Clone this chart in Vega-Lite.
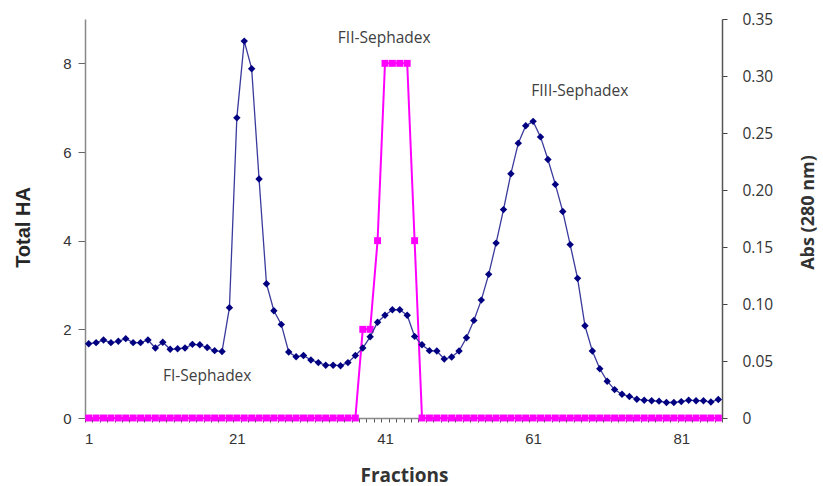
{
  "$schema": "https://vega.github.io/schema/vega-lite/v6.json",
  "width": 637,
  "height": 399,
  "autosize": "none",
  "padding": {"left": 85, "top": 19, "right": 101, "bottom": 68},
  "background": "white",
  "config": {"view": {"stroke": null}, "axis": {"labelOverlap": false}},
  "datasets": {
    "ha": [
      {"f":1,"ha":0},{"f":2,"ha":0},{"f":3,"ha":0},{"f":4,"ha":0},{"f":5,"ha":0},{"f":6,"ha":0},{"f":7,"ha":0},{"f":8,"ha":0},{"f":9,"ha":0},{"f":10,"ha":0},
      {"f":11,"ha":0},{"f":12,"ha":0},{"f":13,"ha":0},{"f":14,"ha":0},{"f":15,"ha":0},{"f":16,"ha":0},{"f":17,"ha":0},{"f":18,"ha":0},{"f":19,"ha":0},{"f":20,"ha":0},
      {"f":21,"ha":0},{"f":22,"ha":0},{"f":23,"ha":0},{"f":24,"ha":0},{"f":25,"ha":0},{"f":26,"ha":0},{"f":27,"ha":0},{"f":28,"ha":0},{"f":29,"ha":0},{"f":30,"ha":0},
      {"f":31,"ha":0},{"f":32,"ha":0},{"f":33,"ha":0},{"f":34,"ha":0},{"f":35,"ha":0},{"f":36,"ha":0},{"f":37,"ha":0},{"f":38,"ha":2},{"f":39,"ha":2},{"f":40,"ha":4},
      {"f":41,"ha":8},{"f":42,"ha":8},{"f":43,"ha":8},{"f":44,"ha":8},{"f":45,"ha":4},{"f":46,"ha":0},{"f":47,"ha":0},{"f":48,"ha":0},{"f":49,"ha":0},{"f":50,"ha":0},
      {"f":51,"ha":0},{"f":52,"ha":0},{"f":53,"ha":0},{"f":54,"ha":0},{"f":55,"ha":0},{"f":56,"ha":0},{"f":57,"ha":0},{"f":58,"ha":0},{"f":59,"ha":0},{"f":60,"ha":0},
      {"f":61,"ha":0},{"f":62,"ha":0},{"f":63,"ha":0},{"f":64,"ha":0},{"f":65,"ha":0},{"f":66,"ha":0},{"f":67,"ha":0},{"f":68,"ha":0},{"f":69,"ha":0},{"f":70,"ha":0},
      {"f":71,"ha":0},{"f":72,"ha":0},{"f":73,"ha":0},{"f":74,"ha":0},{"f":75,"ha":0},{"f":76,"ha":0},{"f":77,"ha":0},{"f":78,"ha":0},{"f":79,"ha":0},{"f":80,"ha":0},
      {"f":81,"ha":0},{"f":82,"ha":0},{"f":83,"ha":0},{"f":84,"ha":0},{"f":85,"ha":0},{"f":86,"ha":0}
    ],
    "abs": [
      {"f":1,"abs":0.0651},{"f":2,"abs":0.0661},{"f":3,"abs":0.0684},{"f":4,"abs":0.0661},{"f":5,"abs":0.0673},{"f":6,"abs":0.0696},{"f":7,"abs":0.0661},{"f":8,"abs":0.0661},{"f":9,"abs":0.0684},{"f":10,"abs":0.0614},
      {"f":11,"abs":0.0665},{"f":12,"abs":0.0603},{"f":13,"abs":0.0607},{"f":14,"abs":0.0614},{"f":15,"abs":0.0646},{"f":16,"abs":0.0642},{"f":17,"abs":0.0618},{"f":18,"abs":0.0591},{"f":19,"abs":0.0583},{"f":20,"abs":0.0968},
      {"f":21,"abs":0.2633},{"f":22,"abs":0.3306},{"f":23,"abs":0.3064},{"f":24,"abs":0.2096},{"f":25,"abs":0.1178},{"f":26,"abs":0.0941},{"f":27,"abs":0.0821},{"f":28,"abs":0.0579},{"f":29,"abs":0.0537},{"f":30,"abs":0.0548},
      {"f":31,"abs":0.0509},{"f":32,"abs":0.0486},{"f":33,"abs":0.0463},{"f":34,"abs":0.0463},{"f":35,"abs":0.0459},{"f":36,"abs":0.0486},{"f":37,"abs":0.0548},{"f":38,"abs":0.0614},{"f":39,"abs":0.0712},{"f":40,"abs":0.0840},
      {"f":41,"abs":0.0902},{"f":42,"abs":0.0949},{"f":43,"abs":0.0949},{"f":44,"abs":0.0902},{"f":45,"abs":0.0716},{"f":46,"abs":0.0642},{"f":47,"abs":0.0591},{"f":48,"abs":0.0587},{"f":49,"abs":0.0517},{"f":50,"abs":0.0535},
      {"f":51,"abs":0.0587},{"f":52,"abs":0.0704},{"f":53,"abs":0.0856},{"f":54,"abs":0.1034},{"f":55,"abs":0.1260},{"f":56,"abs":0.1534},{"f":57,"abs":0.1828},{"f":58,"abs":0.2143},{"f":59,"abs":0.2411},{"f":60,"abs":0.2563},
      {"f":61,"abs":0.2602},{"f":62,"abs":0.2466},{"f":63,"abs":0.2267},{"f":64,"abs":0.2049},{"f":65,"abs":0.1812},{"f":66,"abs":0.1521},{"f":67,"abs":0.1225},{"f":68,"abs":0.0809},{"f":69,"abs":0.0587},{"f":70,"abs":0.0432},
      {"f":71,"abs":0.0323},{"f":72,"abs":0.0249},{"f":73,"abs":0.0208},{"f":74,"abs":0.0189},{"f":75,"abs":0.0165},{"f":76,"abs":0.0156},{"f":77,"abs":0.0152},{"f":78,"abs":0.0148},{"f":79,"abs":0.0136},{"f":80,"abs":0.0136},
      {"f":81,"abs":0.0144},{"f":82,"abs":0.0156},{"f":83,"abs":0.0152},{"f":84,"abs":0.0152},{"f":85,"abs":0.0140},{"f":86,"abs":0.0163}
    ],
    "labels": [
      {"f":17.0,"ha":0.94,"label":"FI-Sephadex"},
      {"f":40.9,"ha":8.58,"label":"FII-Sephadex"},
      {"f":67.3,"ha":7.37,"label":"FIII-Sephadex"}
    ]
  },
  "encoding": {
    "x": {
      "field": "f", "type": "quantitative",
      "scale": {"domain": [0.5, 86.5], "nice": false, "zero": false},
      "axis": {
        "title": "Fractions",
        "values": [0.5,1.5,2.5,3.5,4.5,5.5,6.5,7.5,8.5,9.5,10.5,11.5,12.5,13.5,14.5,15.5,16.5,17.5,18.5,19.5,20.5,21.5,22.5,23.5,24.5,25.5,26.5,27.5,28.5,29.5,30.5,31.5,32.5,33.5,34.5,35.5,36.5,37.5,38.5,39.5,40.5,41.5,42.5,43.5,44.5,45.5,46.5,47.5,48.5,49.5,50.5,51.5,52.5,53.5,54.5,55.5,56.5,57.5,58.5,59.5,60.5,61.5,62.5,63.5,64.5,65.5,66.5,67.5,68.5,69.5,70.5,71.5,72.5,73.5,74.5,75.5,76.5,77.5,78.5,79.5,80.5,81.5,82.5,83.5,84.5,85.5,86.5],
        "labelExpr": "(datum.value - 0.5) % 20 == 0 ? format(datum.value + 0.5, 'd') : ''",
        "labelOffset": 3.7,
        "labelFlush": false,
        "labelOverlap": false,
        "labelPadding": 9,
        "labelFont": "Liberation Sans",
        "labelFontSize": 15,
        "labelColor": "#333333",
        "tickSize": 4,
        "tickColor": "#555555",
        "domainColor": "#888888",
        "domainWidth": 1.5,
        "grid": false,
        "titleFont": "Open Sans",
        "titleFontSize": 19,
        "titleFontWeight": "bold",
        "titleColor": "#333333",
        "titleX": 319,
        "titleY": 63,
        "titleBaseline": "alphabetic"
      }
    }
  },
  "layer": [
    {
      "encoding": {
        "y": {
          "field": "ha", "type": "quantitative",
          "scale": {"domain": [0, 9], "nice": false},
          "axis": {
            "orient": "left",
            "title": "Total HA",
            "values": [0, 2, 4, 6, 8],
            "labelFont": "Liberation Sans",
            "labelFontSize": 15,
            "labelColor": "#333333",
            "labelPadding": 7,
            "tickSize": 7,
            "tickColor": "#666666",
            "domainColor": "#888888",
            "domainWidth": 1.5,
            "grid": false,
            "titleFont": "Liberation Sans",
            "titleFontSize": 20,
            "titleFontWeight": "bold",
            "titleColor": "#262626",
            "titleX": -62,
            "titleY": 208,
            "titleAngle": 270,
            "titleBaseline": "middle",
            "titleAlign": "center"
          }
        }
      },
      "layer": [
        {"data": {"name": "ha"}, "mark": {"type": "line", "color": "#ff00ff", "strokeWidth": 2}},
        {"data": {"name": "ha"}, "mark": {"type": "point", "shape": "square", "filled": true, "color": "#ff00ff", "size": 48, "opacity": 1}},
        {"data": {"name": "labels"}, "mark": {"type": "text", "font": "Open Sans", "fontSize": 15.5, "color": "#404040", "align": "center", "baseline": "middle"},
         "encoding": {"text": {"field": "label"}}}
      ]
    },
    {
      "data": {"name": "abs"},
      "encoding": {
        "y": {
          "field": "abs", "type": "quantitative",
          "scale": {"domain": [0, 0.35], "nice": false},
          "axis": {
            "orient": "right",
            "title": "Abs (280 nm)",
            "values": [0, 0.05, 0.1, 0.15, 0.2, 0.25, 0.3, 0.35],
            "labelExpr": "datum.value == 0 ? '0' : format(datum.value, '.2f')",
            "labelFont": "Open Sans",
            "labelFontSize": 15.5,
            "labelColor": "#333333",
            "labelPadding": 15,
            "tickSize": 5,
            "tickColor": "#444444",
            "domainColor": "#555555",
            "domainWidth": 1.5,
            "grid": false,
            "titleFont": "Open Sans",
            "titleFontSize": 18,
            "titleFontWeight": "bold",
            "titleColor": "#333333",
            "titleX": 86,
            "titleY": 193,
            "titleAngle": 270,
            "titleBaseline": "middle",
            "titleAlign": "center"
          }
        }
      },
      "layer": [
        {"mark": {"type": "line", "color": "#3a3a9c", "strokeWidth": 1.3}},
        {"mark": {"type": "point", "shape": "diamond", "filled": true, "color": "#000080", "size": 55, "opacity": 1}}
      ]
    }
  ],
  "resolve": {"scale": {"y": "independent"}}
}
